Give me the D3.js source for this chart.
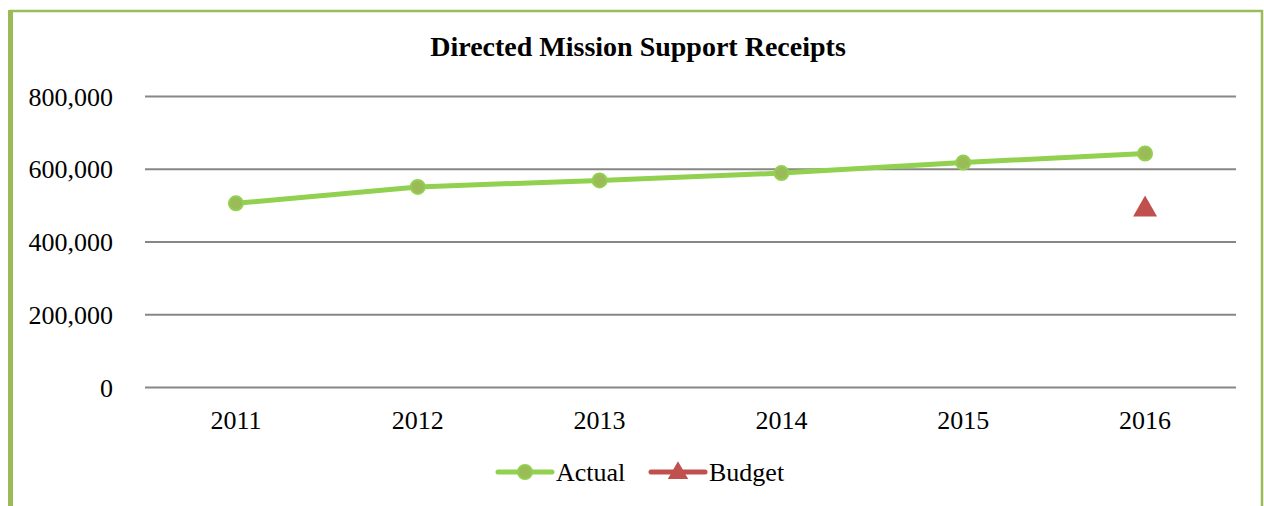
<!DOCTYPE html>
<html><head><meta charset="utf-8">
<script src="https://cdn.jsdelivr.net/npm/d3@7"></script>
<style>html,body{margin:0;padding:0;background:#fff;}svg{display:block;}</style>
</head><body>
<svg id="c" width="1264" height="506"></svg>
<script>
const categories = ["2011","2012","2013","2014","2015","2016"];
const actual = [505000, 550000, 568000, 588000, 617000, 642000];
const budget = [null, null, null, null, null, 488000];
const yTicks = [0, 200000, 400000, 600000, 800000];
const title = "Directed Mission Support Receipts";
const seriesNames = ["Actual", "Budget"];

const svg = d3.select("#c");
const font = "'Liberation Serif', 'Times New Roman', serif";

// border
svg.append("rect").attr("x",10.5).attr("y",11).attr("width",1251.5).attr("height",520)
  .attr("fill","none").attr("stroke","#9BBB59").attr("stroke-width",2.5);
svg.append("rect").attr("x",8).attr("y",10).attr("width",5).attr("height",496).attr("fill","#9BBB59");

const x = d3.scaleBand().domain(categories).range([145,1236]);
const y = d3.scaleLinear().domain([0,800000]).range([387,96]);

svg.append("text").attr("x",638).attr("y",56).attr("text-anchor","middle")
  .attr("font-family",font).attr("font-weight","bold").attr("font-size",28).text(title);

// grid
const yAxis = d3.axisLeft(y).tickValues(yTicks).tickSize(-(1236-145)).tickPadding(30)
  .tickFormat(d3.format(","));
const ga = svg.append("g").attr("transform","translate(145,0)").call(yAxis);
ga.select(".domain").remove();
ga.selectAll(".tick line").attr("stroke","#878787").attr("stroke-width",2);
ga.selectAll(".tick text").attr("font-family",font).attr("font-size",26).attr("fill","#000").attr("dy","0.35em").attr("x",-32);

const xAxis = d3.axisBottom(x).tickSize(0).tickPadding(0);
const gx = svg.append("g").attr("transform","translate(0,387)").call(xAxis);
gx.select(".domain").remove();
gx.selectAll(".tick text").attr("font-family",font).attr("font-size",26).attr("fill","#000").attr("dy","1.6em");

const cx = d => x(d) + x.bandwidth()/2;
const line = d3.line().x((d,i)=>cx(categories[i])).y(d=>y(d));
svg.append("path").datum(actual).attr("d",line).attr("fill","none")
  .attr("stroke","#92D050").attr("stroke-width",5).attr("stroke-linejoin","round");
svg.selectAll(".pt").data(actual).enter().append("circle")
  .attr("cx",(d,i)=>cx(categories[i])).attr("cy",d=>y(d)).attr("r",7)
  .attr("fill","#9BBB59").attr("stroke","#92D050").attr("stroke-width",2);

const tri = d3.symbol().type(d3.symbolTriangle).size(250);
svg.selectAll(".bt").data(budget.map((v,i)=>({v,c:categories[i]})).filter(d=>d.v!=null)).enter()
  .append("path").attr("d",tri).attr("fill","#C0504D")
  .attr("transform",d=>`translate(${cx(d.c)},${y(d.v)})`);

// legend
const tri2 = d3.symbol().type(d3.symbolTriangle).size(180);
const lg = svg.append("g");
lg.append("line").attr("x1",498).attr("x2",552).attr("y1",472).attr("y2",472)
  .attr("stroke","#92D050").attr("stroke-width",5).attr("stroke-linecap","round");
lg.append("circle").attr("cx",525).attr("cy",472).attr("r",7).attr("fill","#9BBB59").attr("stroke","#92D050").attr("stroke-width",2);
lg.append("text").attr("x",556).attr("y",481).attr("font-family",font).attr("font-size",26).text(seriesNames[0]);
lg.append("line").attr("x1",651).attr("x2",705).attr("y1",472).attr("y2",472)
  .attr("stroke","#C0504D").attr("stroke-width",5).attr("stroke-linecap","round");
lg.append("path").attr("d",tri2).attr("fill","#C0504D").attr("transform","translate(678,473)");
lg.append("text").attr("x",709).attr("y",481).attr("font-family",font).attr("font-size",26).text(seriesNames[1]);
</script>
</body></html>
